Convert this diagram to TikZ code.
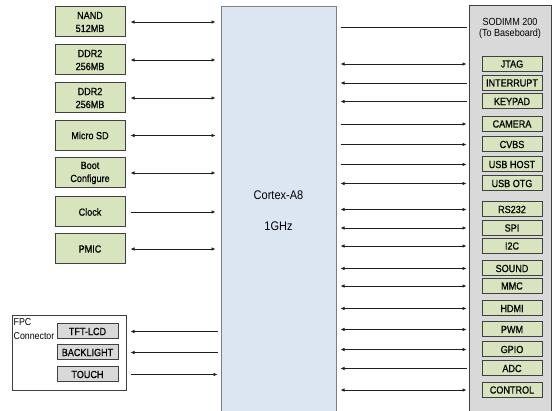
\documentclass[tikz,border=0pt]{standalone}
\usepackage{fontspec}
\setmainfont{Liberation Sans}[FakeStretch=0.88]
\newfontfamily\boxfont{Liberation Sans}[FakeStretch=0.88,FakeBold=0.6]
\usetikzlibrary{arrows.meta}
\definecolor{boxgreen}{HTML}{D7E4BD}
\definecolor{cpublue}{HTML}{DCE6F2}
\definecolor{sogrey}{HTML}{D9D9D9}
\definecolor{boxline}{HTML}{404040}
\definecolor{cpuline}{HTML}{7F7F7F}
\definecolor{linecol}{HTML}{202020}
\begin{document}
\begin{tikzpicture}[x=1pt,y=-1pt,
  tip/.tip={Latex[length=4pt,width=3.5pt]},
  lbox/.style={draw=boxline, fill=boxgreen, line width=1pt, minimum width=70pt, minimum height=30pt, inner sep=0pt, align=center, font=\boxfont\fontsize{10.3}{13}\selectfont},
  rbox/.style={draw=boxline, fill=boxgreen, line width=1pt, minimum width=60pt, minimum height=15pt, inner sep=0pt, font=\boxfont\fontsize{10.3}{12}\selectfont},
  gbox/.style={draw=boxline, fill=sogrey, line width=1pt, minimum width=61pt, minimum height=15pt, inner sep=0pt, font=\boxfont\fontsize{10.3}{12}\selectfont},
  link/.style={draw=linecol, line width=0.7pt},
  both/.style={link, tip-tip},
  tocpu/.style={link, -tip},
  fromcpu/.style={link, tip-},
  lsh/.style={shorten <=5pt, shorten >=5pt},
  rsh/.style={shorten <=4pt, shorten >=2pt},
  fsh/.style={shorten <=12pt, shorten >=3pt}
]
\useasboundingbox (0,0) rectangle (555,411);
\clip (0,0) rectangle (555,411);
\fill[white] (0,0) rectangle (555,411);

% central CPU and SODIMM
\node[draw=cpuline, fill=cpublue, line width=1pt, minimum width=115pt, minimum height=408pt, inner sep=0pt, align=center, font=\fontsize{12.5}{31}\selectfont] (cpu) at (278.5,211) {Cortex-A8\\1GHz};
\node[draw=boxline, fill=sogrey, line width=1pt, minimum width=82pt, minimum height=409pt, inner sep=0pt] (sodimm) at (510,210.5) {};
\node[align=center, inner sep=0pt, font=\fontsize{10.3}{11.5}\selectfont] (title) at (510,28.5) {SODIMM 200\\(To Baseboard)};

% left boxes
\node[lbox] (nand) at (90,22) {NAND\\512MB};
\node[lbox] (ddra) at (90,60) {DDR2\\256MB};
\node[lbox] (ddrb) at (90,98) {DDR2\\256MB};
\node[lbox] (sd) at (90,135.5) {Micro SD};
\node[lbox] (boot) at (90,173) {Boot\\Configure};
\node[lbox] (clock) at (90,212) {Clock};
\node[lbox] (pmic) at (90,249) {PMIC};

\draw[both,lsh] (nand.east) -- (cpu.west |- nand.east);
\draw[both,lsh] (ddra.east) -- (cpu.west |- ddra.east);
\draw[both,lsh] (ddrb.east) -- (cpu.west |- ddrb.east);
\draw[both,lsh] (sd.east) -- (cpu.west |- sd.east);
\draw[both,lsh] (boot.east) -- (cpu.west |- boot.east);
\draw[tocpu,lsh] (clock.east) -- (cpu.west |- clock.east);
\draw[both,lsh] (pmic.east) -- (cpu.west |- pmic.east);

% FPC connector
\node[draw=boxline, fill=white, line width=1pt, minimum width=114pt, minimum height=75pt, inner sep=0pt] (fpc) at (69,353.5) {};
\node[anchor=north west, align=left, inner sep=0pt, font=\fontsize{10}{14}\selectfont] (fpct) at (13.5,318) {FPC\\Connector};
\node[gbox] (tft) at (87.5,331.5) {TFT-LCD};
\node[gbox] (bl) at (87.5,352.5) {BACKLIGHT};
\node[gbox] (touch) at (87.5,374.5) {TOUCH};

\draw[fromcpu,fsh] (tft.east) -- (cpu.west |- tft.east);
\draw[fromcpu,fsh] (bl.east) -- (cpu.west |- bl.east);
\draw[tocpu,fsh] (touch.east) -- (cpu.west |- touch.east);

% right boxes
\node[rbox] (jtag) at (512,64) {JTAG};
\node[rbox] (intr) at (512,83) {INTERRUPT};
\node[rbox] (key) at (512,101.5) {KEYPAD};
\node[rbox] (cam) at (512,124) {CAMERA};
\node[rbox] (cvbs) at (512,144.5) {CVBS};
\node[rbox] (usbh) at (512,164.5) {USB HOST};
\node[rbox] (usbo) at (512,183.5) {USB OTG};
\node[rbox] (rs) at (512,209.5) {RS232};
\node[rbox] (spi) at (512,228) {SPI};
\node[rbox] (iic) at (512,246) {I2C};
\node[rbox] (snd) at (512,268.5) {SOUND};
\node[rbox] (mmc) at (512,286) {MMC};
\node[rbox] (hdmi) at (512,308.5) {HDMI};
\node[rbox] (pwm) at (512,329.5) {PWM};
\node[rbox] (gpio) at (512,349.5) {GPIO};
\node[rbox] (adc) at (512,368.5) {ADC};
\node[rbox] (ctrl) at (512,390) {CONTROL};

\coordinate (tl) at (400,27);
\draw[link,rsh] (cpu.east |- tl) -- (sodimm.west |- tl);
\draw[both,rsh] (cpu.east |- jtag) -- (sodimm.west |- jtag);
\draw[fromcpu,rsh] (cpu.east |- intr) -- (sodimm.west |- intr);
\draw[fromcpu,rsh] (cpu.east |- key) -- (sodimm.west |- key);
\draw[tocpu,rsh] (cpu.east |- cam) -- (sodimm.west |- cam);
\draw[tocpu,rsh] (cpu.east |- cvbs) -- (sodimm.west |- cvbs);
\draw[tocpu,rsh] (cpu.east |- usbh) -- (sodimm.west |- usbh);
\draw[both,rsh] (cpu.east |- usbo) -- (sodimm.west |- usbo);
\draw[both,rsh] (cpu.east |- rs) -- (sodimm.west |- rs);
\draw[both,rsh] (cpu.east |- spi) -- (sodimm.west |- spi);
\draw[both,rsh] (cpu.east |- iic) -- (sodimm.west |- iic);
\draw[both,rsh] (cpu.east |- snd) -- (sodimm.west |- snd);
\draw[both,rsh] (cpu.east |- mmc) -- (sodimm.west |- mmc);
\draw[both,rsh] (cpu.east |- hdmi) -- (sodimm.west |- hdmi);
\draw[both,rsh] (cpu.east |- pwm) -- (sodimm.west |- pwm);
\draw[both,rsh] (cpu.east |- gpio) -- (sodimm.west |- gpio);
\draw[fromcpu,rsh] (cpu.east |- adc) -- (sodimm.west |- adc);
\draw[both,rsh] (cpu.east |- ctrl) -- (sodimm.west |- ctrl);
\end{tikzpicture}
\end{document}
